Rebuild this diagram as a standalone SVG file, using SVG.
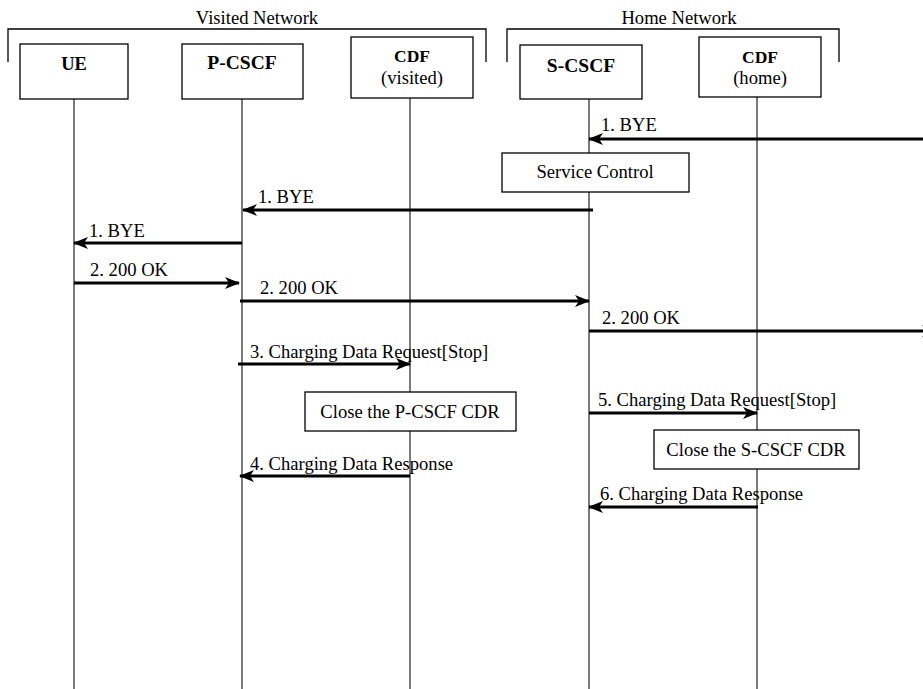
<svg xmlns="http://www.w3.org/2000/svg" width="923" height="689" viewBox="0 0 923 689">
<defs>
<style>
text{font-family:"Liberation Serif","Times New Roman",Times,serif;font-size:18.6px;fill:#000}
.b{font-weight:bold}
.box{fill:#fff;stroke:#000;stroke-width:1.3}
.life{stroke:#222;stroke-width:1.2;fill:none}
.msg{stroke:#000;stroke-width:3;fill:none}
.brk{stroke:#000;stroke-width:1.3;fill:none}
</style>
<marker id="ah" markerUnits="userSpaceOnUse" markerWidth="15" markerHeight="12" viewBox="0 0 15 12" refX="14" refY="6" orient="auto">
<path d="M0,0 L15,6 L0,12 L4,6 z" fill="#000"/>
</marker>
</defs>
<g id="groups">
<path class="brk" d="M8,62 V29 H486 V62"/>
<text x="257" y="24" text-anchor="middle">Visited Network</text>
<path class="brk" d="M507,62 V29 H839 V62"/>
<text x="679" y="24" text-anchor="middle">Home Network</text>
</g>
<g id="lifelines">
<line class="life" x1="74" y1="99" x2="74" y2="689"/>
<line class="life" x1="242" y1="99" x2="242" y2="689"/>
<line class="life" x1="410" y1="98" x2="410" y2="689"/>
<line class="life" x1="589" y1="99" x2="589" y2="689"/>
<line class="life" x1="757" y1="97" x2="757" y2="689"/>
</g>
<g id="ue"><rect class="box" x="20" y="44" width="108" height="55"/><text class="b" x="74" y="70" text-anchor="middle" style="font-size:18.5px">UE</text></g>
<g id="pcscf"><rect class="box" x="182" y="44" width="121" height="55"/><text class="b" x="242" y="69" text-anchor="middle" style="font-size:19.5px">P-CSCF</text></g>
<g id="cdfv"><rect class="box" x="351" y="37" width="122" height="61"/><text class="b" x="412" y="62" text-anchor="middle" style="font-size:17.5px">CDF</text><text x="412" y="84" text-anchor="middle">(visited)</text></g>
<g id="scscf"><rect class="box" x="520" y="45" width="122" height="54"/><text class="b" x="581" y="72" text-anchor="middle" style="font-size:19.5px">S-CSCF</text></g>
<g id="cdfh"><rect class="box" x="699" y="37" width="122" height="60"/><text class="b" x="760" y="63" text-anchor="middle" style="font-size:17.5px">CDF</text><text x="760" y="84" text-anchor="middle">(home)</text></g>
<g id="connectors">
<line class="msg" x1="923" y1="139" x2="589" y2="139" marker-end="url(#ah)"/>
<line class="msg" x1="593" y1="210" x2="243" y2="210" marker-end="url(#ah)"/>
<line class="msg" x1="242" y1="243" x2="74" y2="243" marker-end="url(#ah)"/>
<line class="msg" x1="74" y1="283" x2="239" y2="283" marker-end="url(#ah)"/>
<line class="msg" x1="240" y1="301" x2="589" y2="301" marker-end="url(#ah)"/>
<line class="msg" x1="589" y1="331" x2="936" y2="331" marker-end="url(#ah)"/>
<line class="msg" x1="238" y1="364" x2="410" y2="364" marker-end="url(#ah)"/>
<line class="msg" x1="410" y1="476" x2="240" y2="476" marker-end="url(#ah)"/>
<line class="msg" x1="589" y1="413" x2="757" y2="413" marker-end="url(#ah)"/>
<line class="msg" x1="758" y1="507" x2="589" y2="507" marker-end="url(#ah)"/>
</g>
<g id="labels">
<text x="601" y="131">1. BYE</text>
<text x="258" y="203">1. BYE</text>
<text x="89" y="237">1. BYE</text>
<text x="90" y="276">2. 200 OK</text>
<text x="260" y="294">2. 200 OK</text>
<text x="602" y="324">2. 200 OK</text>
<text x="250" y="358">3. Charging Data Request[Stop]</text>
<text x="250" y="470">4. Charging Data Response</text>
<text x="598" y="406">5. Charging Data Request[Stop]</text>
<text x="600" y="500">6. Charging Data Response</text>
</g>
<g id="service"><rect class="box" x="502" y="153" width="187" height="39"/><text x="595" y="178" text-anchor="middle">Service Control</text></g>
<g id="closep"><rect class="box" x="305" y="392" width="211" height="39"/><text x="410" y="418" text-anchor="middle">Close the P-CSCF CDR</text></g>
<g id="closes"><rect class="box" x="654" y="430" width="205" height="39"/><text x="756" y="456" text-anchor="middle">Close the S-CSCF CDR</text></g>
</svg>
